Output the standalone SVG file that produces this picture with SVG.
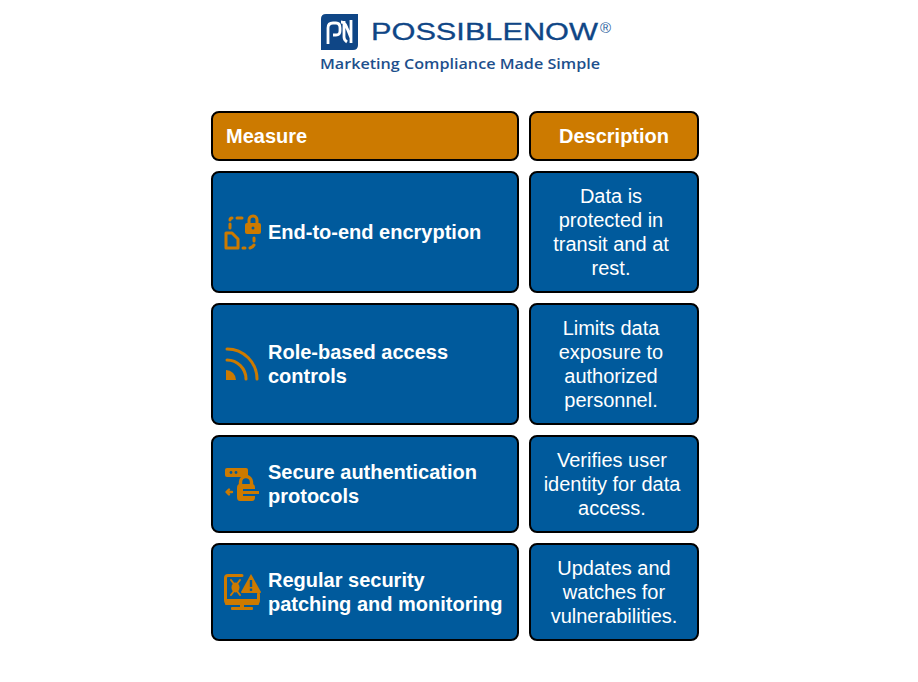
<svg xmlns="http://www.w3.org/2000/svg" width="918" height="682" viewBox="0 0 918 682">
<style>
text{font-family:"Liberation Sans",Arial,sans-serif;font-size:20px;fill:#fff}
.b{font-weight:700}
.c{text-anchor:middle}
.blue{fill:#005a9c;stroke:#000;stroke-width:2}
.or{fill:#cc7a00;stroke:#000;stroke-width:2}
.i{fill:none;stroke:#cc7a00;stroke-width:3;stroke-linecap:round;stroke-linejoin:round}
.f{fill:#cc7a00}
.h{fill:#005a9c}
.logo{fill:#0f4686}
</style>
<rect width="918" height="682" fill="#fff"/>
<g id="logo">
<path class="logo" d="M326 14H358V45Q358 50 353 50H321V19Q321 14 326 14Z"/>
<path d="M328 44V28Q328 23 333 23H336Q340 23 340 28V31Q340 35 336 35H333M344 21V37Q344 40 347 42M341 22Q345 22 347 28L351 38M351 20V43" fill="none" stroke="#fff" stroke-width="2.800"/>
<text x="371" y="40" textLength="227" lengthAdjust="spacingAndGlyphs" style="font-size:24.500px;fill:#0f4686;stroke:#0f4686;stroke-width:.3">POSSIBLENOW</text>
<text x="600" y="33" style="font-size:15px;fill:#2c5f9e">®</text>
<text x="320" y="69" textLength="280" lengthAdjust="spacingAndGlyphs" style="font-family:'Open Sans',sans-serif;font-size:15px;font-weight:600;fill:#1d4f8c">Marketing Compliance Made Simple</text>
</g>
<g id="header-measure"><rect class="or" x="212" y="112" width="306" height="48" rx="7"/><text class="b" x="226" y="143">Measure</text></g>
<g id="header-description"><rect class="or" x="530" y="112" width="168" height="48" rx="7"/><text class="b c" x="614" y="143">Description</text></g>
<g id="measure-1"><rect class="blue" x="212" y="172" width="306" height="120" rx="7"/>
<path class="i" d="M230 228V224M230 220Q230 218 232 218M237 218H242M254 238V241M254 245Q253 247 250 248M245 248H243"/>
<path class="i" d="M226 233H232L238 239V248H226Z"/>
<rect class="f" x="245" y="223" width="16" height="11" rx="2"/><path class="i" d="M249 223V220A4 4 0 0 1 257 220V223"/><circle cx="253" cy="228" r="1.500" class="h"/>
<text class="b" x="268" y="239">End-to-end encryption</text></g>
<g id="description-1"><rect class="blue" x="530" y="172" width="168" height="120" rx="7"/>
<text class="c"><tspan x="611" y="203">Data is</tspan><tspan x="611" y="227">protected in</tspan><tspan x="611" y="251">transit and at</tspan><tspan x="611" y="275">rest.</tspan></text></g>
<g id="measure-2"><rect class="blue" x="212" y="304" width="306" height="120" rx="7"/>
<path class="i" d="M227 349A30 30 0 0 1 257 379M227 360A19 19 0 0 1 246 379"/>
<path class="f" d="M226 370A10 10 0 0 1 236 380H226Z"/>
<text class="b"><tspan x="268" y="359">Role-based access</tspan><tspan x="268" y="383">controls</tspan></text></g>
<g id="description-2"><rect class="blue" x="530" y="304" width="168" height="120" rx="7"/>
<text class="c"><tspan x="611" y="335">Limits data</tspan><tspan x="611" y="359">exposure to</tspan><tspan x="611" y="383">authorized</tspan><tspan x="611" y="407">personnel.</tspan></text></g>
<g id="measure-3"><rect class="blue" x="212" y="436" width="306" height="96" rx="7"/>
<rect class="f" x="225" y="468" width="23" height="9" rx="2"/><circle cx="231" cy="472.500" r="1.400" class="h"/><circle cx="236" cy="472.500" r="1.400" class="h"/>
<path class="i" d="M240.500 485V482A5.500 5.500 0 0 1 251.500 482V485" style="stroke-width:3.400"/>
<path class="f" d="M237 488Q237 484 240 484H252Q255 484 255 488V489H243V491H259V494H243V496H255V497Q255 501 252 501H240Q237 501 237 497Z"/>
<path class="i" d="M227 492H232M229 489.500L226.500 492L229 494.500" style="stroke-width:2.400"/>
<text class="b"><tspan x="268" y="479">Secure authentication</tspan><tspan x="268" y="503">protocols</tspan></text></g>
<g id="description-3"><rect class="blue" x="530" y="436" width="168" height="96" rx="7"/>
<text class="c"><tspan x="612" y="467">Verifies user</tspan><tspan x="612" y="491">identity for data</tspan><tspan x="612" y="515">access.</tspan></text></g>
<g id="measure-4"><rect class="blue" x="212" y="544" width="306" height="96" rx="7"/>
<path class="i" d="M242 575.500H228Q225.500 575.500 225.500 578V600Q225.500 603 228 603H256Q258.500 603 258.500 600V594"/>
<rect class="f" x="225" y="599" width="34" height="6" rx="1"/>
<rect class="f" x="240" y="604" width="4" height="4"/><rect class="f" x="231" y="607" width="22" height="3" rx="1"/>
<path class="f" d="M251 574L261 592Q261 593 260 593H242Q241 593 241 592Z"/><rect x="249.800" y="580" width="2.400" height="7" class="h"/><rect x="249.800" y="588.500" width="2.400" height="2.400" class="h"/>
<path class="i" d="M231 580L234 584M240 580L237 584M231 595L234 591M240 595L237 591" style="stroke-width:2"/>
<ellipse class="f" cx="235.500" cy="587.500" rx="4" ry="5"/>
<text class="b"><tspan x="268" y="587">Regular security</tspan><tspan x="268" y="611">patching and monitoring</tspan></text></g>
<g id="description-4"><rect class="blue" x="530" y="544" width="168" height="96" rx="7"/>
<text class="c"><tspan x="614" y="575">Updates and</tspan><tspan x="614" y="599">watches for</tspan><tspan x="614" y="623">vulnerabilities.</tspan></text></g>
<g id="connectors"></g>
</svg>
